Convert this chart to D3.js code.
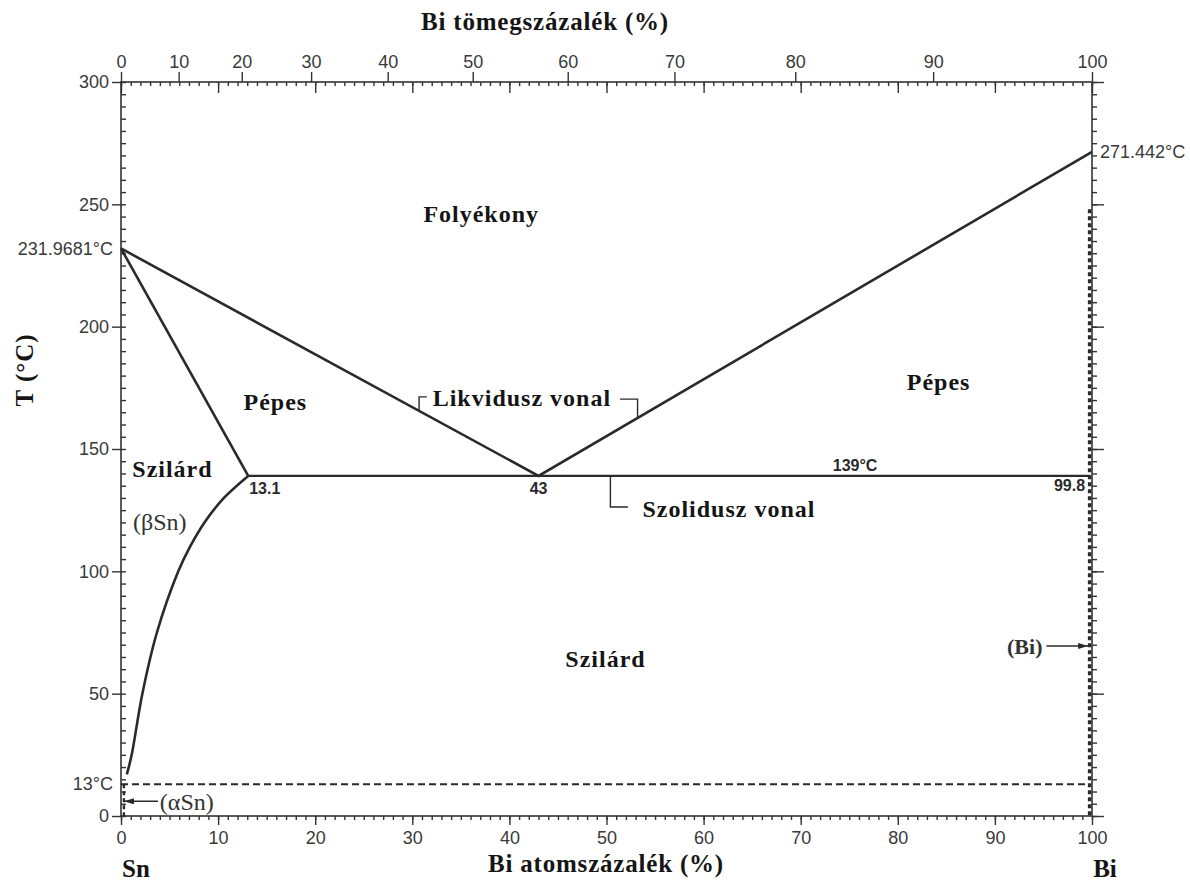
<!DOCTYPE html>
<html>
<head>
<meta charset="utf-8">
<script src="https://cdn.jsdelivr.net/npm/d3@7"></script>
<style>
  body { margin: 0; background: #fff; }
  svg { display: block; }
  .tick text { font-family: "Liberation Sans", Arial, sans-serif; font-size: 18px; fill: #3a3a3a; }
  .tick line { stroke: #333; stroke-width: 1.4; }
  .serif { font-family: "Liberation Serif", "Times New Roman", serif; font-weight: bold; fill: #151515; }
  .small { font-family: "Liberation Sans", Arial, sans-serif; font-weight: bold; font-size: 16px; fill: #2a2a2a; }
</style>
</head>
<body>
<svg id="chart" width="1190" height="882"></svg>
<script>
// Sn-Bi phase diagram, atomic % on x, temperature on y

var atTicks = [0, 10, 20, 30, 40, 50, 60, 70, 80, 90, 100];
var wtTicks = [0, 10, 20, 30, 40, 50, 60, 70, 80, 90, 100];
var tempTicks = [0, 50, 100, 150, 200, 250, 300];

// phase boundaries [Bi at%, T °C]
var liquidus = [[0, 231.9681], [43, 139], [100, 271.442]];
var solidusSn = [[0, 231.9681], [13.1, 139]];
var eutectic = [[13.1, 139], [99.8, 139]];
var solvusSn = [[0.6, 17], [1.1, 25], [2.2, 50], [3.7, 75], [5.9, 100], [7.1, 110],
                [8.6, 120], [10.6, 130], [13.1, 139]];
var transition13 = [[0, 13], [99.4, 13]];
var alphaSnBound = [[0.3, 13], [0.3, 0]];
var biSolvus = [[99.75, 248], [99.75, 0]];

var snMelt = 231.9681, biMelt = 271.442, eutT = 139, transT = 13;

// molar masses for the weight % axis
var mSn = 118.71, mBi = 208.98;
function wtToAt(w) {
  var b = w / mBi, s = (100 - w) / mSn;
  return 100 * b / (b + s);
}

var svg = d3.select('#chart');
var x = d3.scaleLinear().domain([0, 100]).range([121, 1092]);
var y = d3.scaleLinear().domain([0, 300]).range([816, 82]);

var wtDense = d3.range(0, 101);
var xw = d3.scaleLinear().domain(wtDense).range(wtDense.map(function(w){ return x(wtToAt(w)); }));

// axes
svg.append('g').attr('transform', 'translate(' + x(0) + ',0)')
  .call(d3.axisLeft(y).tickValues(tempTicks).tickSize(9).tickPadding(3));
svg.append('g').attr('transform', 'translate(' + x(0) + ',0)')
  .call(d3.axisRight(y).tickValues(d3.range(0, 301, 5)).tickSize(5).tickFormat(''));

svg.append('g').attr('transform', 'translate(0,' + y(0) + ')')
  .call(d3.axisBottom(x).tickValues(atTicks).tickSize(9).tickPadding(6));
svg.append('g').attr('transform', 'translate(0,' + y(0) + ')')
  .call(d3.axisBottom(x).tickValues(d3.range(0, 101, 1)).tickSize(4).tickFormat(''));

svg.append('g').attr('transform', 'translate(0,' + y(300) + ')')
  .call(d3.axisTop(xw).tickValues(wtTicks).tickSize(10).tickPadding(4));
svg.append('g').attr('transform', 'translate(0,' + y(300) + ')')
  .call(d3.axisBottom(x).tickValues(d3.range(0, 101, 1)).tickSize(4).tickFormat(''));
svg.append('g').attr('transform', 'translate(0,' + y(300) + ')')
  .call(d3.axisBottom(x).tickValues(atTicks).tickSize(11).tickFormat(''));

svg.append('g').attr('transform', 'translate(' + x(100) + ',0)')
  .call(d3.axisRight(y).tickValues(d3.range(0, 301, 5)).tickSize(5).tickFormat(''));
svg.append('g').attr('transform', 'translate(' + x(100) + ',0)')
  .call(d3.axisRight(y).tickValues(tempTicks).tickSize(12).tickFormat(''));

svg.selectAll('.domain').remove();

// frame
svg.append('rect')
  .attr('x', x(0)).attr('y', y(300))
  .attr('width', x(100) - x(0)).attr('height', y(0) - y(300))
  .attr('fill', 'none').attr('stroke', '#333').attr('stroke-width', 1.6);

var line = d3.line().x(function(d){ return x(d[0]); }).y(function(d){ return y(d[1]); });

function drawLine(data, dash, width, curve) {
  var l = d3.line().x(function(d){ return x(d[0]); }).y(function(d){ return y(d[1]); });
  if (curve) l.curve(curve);
  svg.append('path').datum(data)
    .attr('d', l)
    .attr('fill', 'none')
    .attr('stroke', '#2a2a2a')
    .attr('stroke-width', width)
    .attr('stroke-dasharray', dash);
}

drawLine(liquidus, null, 2.6);
drawLine(solidusSn, null, 2.6);
drawLine(eutectic, null, 2.4);
drawLine(solvusSn, null, 2.6, d3.curveCatmullRom.alpha(0.5));
drawLine(transition13, '7,4', 2);
drawLine(alphaSnBound, '4,3', 2.4);
drawLine(biSolvus, '4,3', 3.4);

// special temperature labels
function tempLabel(txt, xp, t, anchor) {
  svg.append('text')
    .attr('x', xp).attr('y', y(t)).attr('dy', '0.35em')
    .attr('text-anchor', anchor)
    .style('font-family', '"Liberation Sans", Arial, sans-serif').style('font-size', '18px').style('fill', '#3a3a3a')
    .text(txt);
}
tempLabel('231.9681°C', x(0) - 8, snMelt, 'end');
tempLabel('271.442°C', x(100) + 8, biMelt, 'start');
tempLabel('13°C', x(0) - 8, transT, 'end');

// small point labels on the eutectic
svg.append('text').attr('class', 'small').attr('x', x(13.1) + 1).attr('y', y(eutT) + 18).text('13.1');
svg.append('text').attr('class', 'small').attr('x', x(43)).attr('y', y(eutT) + 18).attr('text-anchor', 'middle').text('43');
svg.append('text').attr('class', 'small').attr('x', x(99.8) - 5).attr('y', y(eutT) + 15).attr('text-anchor', 'end').text('99.8');
svg.append('text').attr('class', 'small').attr('x', x(77.9)).attr('y', y(eutT) - 5).attr('text-anchor', 'end').text('139°C');

// region labels [text, at%, T, anchor]
var regions = [
  ['Folyékony', 37.1, 242.8, 'middle'],
  ['Pépes', 15.9, 165.9, 'middle'],
  ['Pépes', 84.2, 174.1, 'middle'],
  ['Szilárd', 5.3, 138.6, 'middle'],
  ['Szilárd', 49.9, 60.9, 'middle'],
  ['Likvidusz vonal', 32.1, 167.6, 'start'],
  ['Szolidusz vonal', 53.7, 122.2, 'start']
];
svg.selectAll('.region').data(regions).enter().append('text')
  .attr('class', 'serif region')
  .attr('x', function(d){ return x(d[1]); })
  .attr('y', function(d){ return y(d[2]); })
  .attr('text-anchor', function(d){ return d[3]; })
  .style('font-size', '24px').style('letter-spacing', '1px')
  .text(function(d){ return d[0]; });

// phase names
svg.append('text').attr('x', x(4.0)).attr('y', y(116.9)).attr('text-anchor', 'middle')
  .style('font-family', '"Liberation Serif", serif').style('font-size', '24px').style('fill', '#333')
  .text('(βSn)');
svg.append('text').attr('x', x(4.0)).attr('y', y(2.6))
  .style('font-family', '"Liberation Serif", serif').style('font-size', '24px').style('fill', '#333')
  .text('(αSn)');
svg.append('text').attr('x', x(94.9)).attr('y', y(66.4)).attr('text-anchor', 'end')
  .style('font-family', '"Liberation Serif", serif').style('font-weight', 'bold').style('font-size', '22px').style('fill', '#333')
  .text('(Bi)');

// leader lines
var leaders = [
  [[30.7, 165.6], [30.7, 171.3], [31.5, 171.3]],
  [[51.4, 170.4], [53.2, 170.4], [53.2, 162.7]],
  [[50.4, 139], [50.4, 126.3], [52.2, 126.3]]
];
leaders.forEach(function(p){ drawLine(p, null, 1.4); });

// arrows
svg.append('defs').append('marker')
  .attr('id', 'arr').attr('viewBox', '0 0 10 6').attr('refX', 10).attr('refY', 3)
  .attr('markerWidth', 10).attr('markerHeight', 6).attr('markerUnits', 'userSpaceOnUse')
  .attr('orient', 'auto')
  .append('path').attr('d', 'M0,0L10,3L0,6Z').attr('fill', '#2a2a2a');

var arrows = [
  [[3.8, 6], [0.3, 6]],
  [[95.3, 69.5], [99.6, 69.5]]
];
arrows.forEach(function(a){
  svg.append('path').datum(a).attr('d', line)
    .attr('stroke', '#2a2a2a').attr('stroke-width', 1.4).attr('fill', 'none')
    .attr('marker-end', 'url(#arr)');
});

// axis titles
svg.append('text').attr('class', 'serif')
  .attr('x', 545).attr('y', 30).attr('text-anchor', 'middle')
  .style('font-size', '25px').style('letter-spacing', '0.8px')
  .text('Bi tömegszázalék (%)');
svg.append('text').attr('class', 'serif')
  .attr('x', 606).attr('y', 872).attr('text-anchor', 'middle')
  .style('font-size', '25px').style('letter-spacing', '0.8px')
  .text('Bi atomszázalék (%)');
svg.append('text').attr('class', 'serif')
  .attr('transform', 'translate(33,370) rotate(-90)').attr('text-anchor', 'middle')
  .style('font-size', '25px').style('letter-spacing', '1px')
  .text('T (°C)');
svg.append('text').attr('class', 'serif')
  .attr('x', x(0) + 15).attr('y', 877).attr('text-anchor', 'middle')
  .style('font-size', '25px')
  .text('Sn');
svg.append('text').attr('class', 'serif')
  .attr('x', x(100) + 13).attr('y', 877).attr('text-anchor', 'middle')
  .style('font-size', '25px')
  .text('Bi');
</script>
</body>
</html>
